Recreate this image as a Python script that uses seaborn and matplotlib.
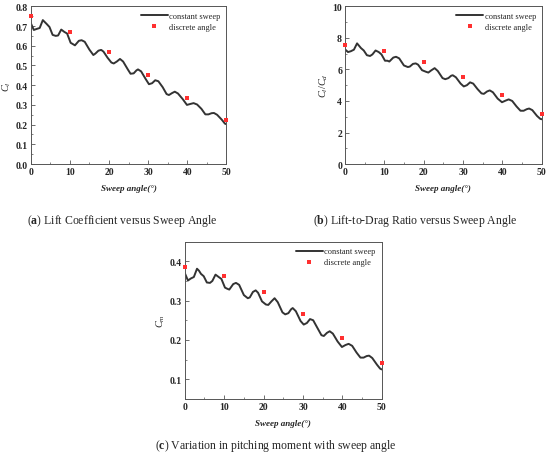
import numpy as np
import pandas as pd
import matplotlib
matplotlib.use("Agg")
import matplotlib.pyplot as plt
import seaborn as sns
from matplotlib.ticker import MultipleLocator

# sweep angles of the constant-sweep curve
sweep = [0, 0.8, 1.5, 2.3, 3.1, 3.6, 4.1, 4.8, 5.6, 6.4, 7, 7.8, 8.6, 9.3,
         10.2, 10.8, 11.3, 12.3, 13, 13.8, 15, 16, 16.5, 17.3, 18, 18.6,
         19.6, 20.6, 21.2, 22, 22.8, 23.6, 24.8, 25.5, 26.3, 27, 27.4, 28.2,
         29.4, 30.2, 31, 31.8, 32.6, 33.7, 34.7, 35.3, 36.1, 36.8, 37.6,
         38.8, 39.9, 40.8, 41.6, 42.5, 43.6, 44.6, 45.4, 46.2, 46.8, 47.6,
         48.8, 49.6, 50]

cl_sweep = [0.716, 0.68, 0.685, 0.69, 0.73, 0.72, 0.71, 0.695, 0.655, 0.65,
            0.652, 0.682, 0.67, 0.662, 0.615, 0.608, 0.602, 0.625, 0.628,
            0.62, 0.58, 0.553, 0.56, 0.575, 0.579, 0.57, 0.54, 0.515, 0.51,
            0.52, 0.533, 0.52, 0.48, 0.458, 0.46, 0.475, 0.48, 0.47, 0.43,
            0.405, 0.41, 0.425, 0.42, 0.39, 0.355, 0.35, 0.36, 0.367, 0.358,
            0.33, 0.30, 0.305, 0.309, 0.302, 0.28, 0.252, 0.252, 0.258,
            0.259, 0.25, 0.225, 0.205, 0.202]

ld_sweep = [7.28, 7.1, 7.15, 7.25, 7.65, 7.5, 7.35, 7.2, 6.9, 6.85, 6.95,
            7.2, 7.1, 6.95, 6.55, 6.55, 6.5, 6.75, 6.8, 6.7, 6.25, 6.15,
            6.18, 6.35, 6.38, 6.3, 5.95, 5.85, 5.8, 5.95, 6.08, 5.9, 5.45,
            5.38, 5.45, 5.6, 5.63, 5.5, 5.1, 4.92, 5.0, 5.18, 5.1, 4.75,
            4.48, 4.45, 4.6, 4.67, 4.55, 4.15, 3.92, 4.02, 4.1, 4.0, 3.65,
            3.38, 3.38, 3.48, 3.52, 3.42, 3.05, 2.87, 2.84]

cm_sweep = [0.37, 0.351, 0.356, 0.36, 0.381, 0.376, 0.368, 0.362, 0.346,
            0.345, 0.35, 0.366, 0.36, 0.355, 0.333, 0.33, 0.328, 0.342,
            0.345, 0.34, 0.314, 0.306, 0.308, 0.322, 0.326, 0.32, 0.298,
            0.29, 0.289, 0.298, 0.306, 0.296, 0.27, 0.265, 0.268, 0.278,
            0.281, 0.273, 0.248, 0.239, 0.243, 0.253, 0.25, 0.23, 0.212,
            0.21, 0.218, 0.222, 0.216, 0.196, 0.182, 0.187, 0.19, 0.185,
            0.168, 0.155, 0.155, 0.159, 0.16, 0.154, 0.137, 0.127, 0.125]

# discrete angle simulations
angles = [0, 10, 20, 30, 40, 50]
cl_disc = [0.75, 0.67, 0.567, 0.452, 0.333, 0.225]
ld_disc = [7.54, 7.14, 6.46, 5.54, 4.38, 3.16]
cm_disc = [0.386, 0.363, 0.321, 0.266, 0.205, 0.142]

sns.set_style("ticks")
plt.rcParams["font.family"] = ["Liberation Serif", "DejaVu Serif"]
plt.rcParams["mathtext.fontset"] = "custom"
plt.rcParams["mathtext.it"] = "Liberation Serif:italic"
plt.rcParams["mathtext.rm"] = "Liberation Serif"
plt.rcParams["mathtext.bf"] = "Liberation Serif:bold"

fig = plt.figure(figsize=(5.5, 4.56), dpi=100)
ax_a = fig.add_axes([0.0558, 0.638, 0.356, 0.346])
ax_b = fig.add_axes([0.627, 0.638, 0.358, 0.346])
ax_c = fig.add_axes([0.336, 0.123, 0.358, 0.345])

panels = [
    (ax_a, cl_sweep, cl_disc, r"$C_l$", (0, 0.8), 0.1, 0.05, "{:.1f}"),
    (ax_b, ld_sweep, ld_disc, r"$C_l/C_d$", (0, 10), 2, 1, "{:.0f}"),
    (ax_c, cm_sweep, cm_disc, r"$C_m$", (0.05, 0.45), 0.1, 0.05, "{:.1f}"),
]

for ax, curve, disc, ylab, ylim, major, minor, fmt in panels:
    sns.lineplot(x=sweep, y=curve, ax=ax, color="#333333", lw=1.4,
                 label="constant sweep")
    sns.scatterplot(x=angles, y=disc, ax=ax, color="#ff3030", marker="s",
                    s=12, linewidth=0, label="discrete angle", zorder=3,
                    clip_on=False)
    ax.set_xlim(0, 50)
    ax.set_ylim(*ylim)
    ax.xaxis.set_major_locator(MultipleLocator(10))
    ax.xaxis.set_minor_locator(MultipleLocator(5))
    ax.yaxis.set_major_locator(MultipleLocator(major))
    ax.yaxis.set_minor_locator(MultipleLocator(minor))
    ticks = ax.get_yticks()
    ticks = [t for t in ticks if ylim[0] - 1e-9 <= t <= ylim[1] + 1e-9]
    if ylim[0] == 0.05:
        ticks = [t for t in ticks if t >= 0.1 - 1e-9 and t <= 0.4 + 1e-9]
    ax.set_yticks(ticks)
    ax.set_yticklabels([fmt.format(t) for t in ticks])
    ax.tick_params(which="both", direction="in", labelsize=7, pad=2,
                   color="#555555")
    ax.tick_params(which="major", length=3, width=0.6)
    ax.tick_params(which="minor", length=1.6, width=0.5)
    for lbl in ax.get_xticklabels() + ax.get_yticklabels():
        lbl.set_fontweight("bold")
    for sp in ax.spines.values():
        sp.set_visible(True)
        sp.set_linewidth(0.7)
        sp.set_color("#555555")
    ax.set_xlabel("Sweep angle(°)", fontsize=6.5, fontstyle="italic",
                  fontweight="bold", labelpad=6)
    ax.set_ylabel(ylab, fontsize=7.5, labelpad=2)
    ax.legend(loc="upper right", frameon=False, fontsize=6,
              handlelength=3.2, handletextpad=0.2, borderaxespad=0.3,
              labelspacing=0.3, markerscale=1.0)

cap_kw = dict(ha="center", va="center", fontsize=8.5)
fig.text(122 / 550, 1 - 221 / 456, r"($\mathbf{a}$) Lift Coefficient versus Sweep Angle", **cap_kw)
fig.text(415 / 550, 1 - 221 / 456, r"($\mathbf{b}$) Lift-to-Drag Ratio versus Sweep Angle", **cap_kw)
fig.text(276 / 550, 1 - 446 / 456, r"($\mathbf{c}$) Variation in pitching moment with sweep angle", **cap_kw)

fig.savefig("out.png", dpi=100)
